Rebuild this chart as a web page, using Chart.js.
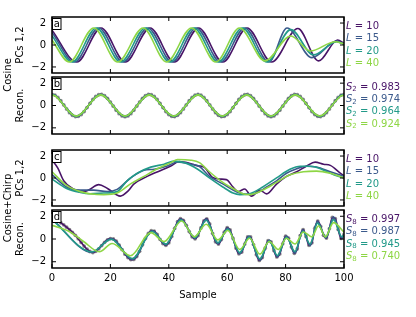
<!DOCTYPE html>
<html>
<head>
<meta charset="utf-8">
<script src="https://cdn.jsdelivr.net/npm/chart.js"></script>
<style>
  body { margin: 0; background: #fff; }
  #wrap { position: relative; width: 416px; height: 317px; overflow: hidden; font-family: "DejaVu Sans", sans-serif; }
  .pane { position: absolute; left: 0; }
  .pane canvas { display: block; }
  .grp { position: absolute; font-size: 10px; white-space: nowrap; color: #000;
         transform: translate(-50%, -50%) rotate(-90deg); }
</style>
</head>
<body>
<div id="wrap">
  <div class="pane"><canvas id="pa"></canvas></div>
  <div class="pane"><canvas id="pb"></canvas></div>
  <div class="pane"><canvas id="pc"></canvas></div>
  <div class="pane"><canvas id="pd"></canvas></div>
  <div class="grp" style="left:7px; top:75px">Cosine</div>
  <div class="grp" style="left:7px; top:208px">Cosine+Chirp</div>
</div>
<script>
// --- data ---
const sampleTicks = [0, 20, 40, 60, 80, 100];
const valueTicks = [-2, 0, 2];
const windowSizes = ['10', '15', '20', '40'];
const cosineScores = ['0.983', '0.974', '0.964', '0.924'];
const chirpScores = ['0.997', '0.987', '0.945', '0.740'];

// a: cosine, PCs 1,2 (turning points)
const aX10 = [0, 8.5, 16.8, 25.1, 33.6, 41.9, 50.2, 58.5, 66.8, 75.2, 84.2, 91.3, 97.8, 100];
const aY10 = [1.35, -1.55, 1.55, -1.55, 1.55, -1.55, 1.55, -1.55, 1.55, -1.55, 1.5, -1.45, 0.45, 0.15];
const aX15 = [0, 7.7, 16.0, 24.3, 32.8, 41.1, 49.4, 57.7, 66.0, 74.3, 80.5, 89.0, 97.5, 100];
const aY15 = [1.15, -1.55, 1.55, -1.55, 1.55, -1.55, 1.55, -1.55, 1.55, -1.55, 1.55, -1.15, 0.35, 0.1];
const aX20 = [0, 6.9, 15.2, 23.5, 32.0, 40.3, 48.6, 56.9, 65.2, 73.6, 81.8, 89.5, 97.5, 100];
const aY20 = [0.85, -1.55, 1.55, -1.55, 1.55, -1.55, 1.55, -1.55, 1.55, -1.55, 1.4, -0.9, 0.3, 0.05];
const aX40 = [0, 5.9, 14.3, 22.5, 31.2, 39.2, 47.8, 56.1, 64.2, 72.9, 81.8, 88.5, 97.0, 100];
const aY40 = [0.45, -1.55, 1.55, -1.55, 1.55, -1.55, 1.55, -1.55, 1.55, -1.45, 0.82, -0.55, 0.3, 0.1];

// b: cosine samples and reconstructions
const cosineSeries = [1.00, 0.93, 0.73, 0.43, 0.06, -0.31, -0.64, -0.88, -0.99, -0.97,
  -0.81, -0.54, -0.19, 0.19, 0.54, 0.81, 0.97, 0.99, 0.88, 0.64,
  0.31, -0.06, -0.43, -0.73, -0.93, -1.00, -0.93, -0.73, -0.43, -0.06,
  0.31, 0.64, 0.88, 0.99, 0.97, 0.81, 0.54, 0.19, -0.19, -0.54,
  -0.81, -0.97, -0.99, -0.88, -0.64, -0.31, 0.06, 0.43, 0.73, 0.93,
  1.00, 0.93, 0.73, 0.43, 0.06, -0.31, -0.64, -0.88, -0.99, -0.97,
  -0.81, -0.54, -0.19, 0.19, 0.54, 0.81, 0.97, 0.99, 0.88, 0.64,
  0.31, -0.06, -0.43, -0.73, -0.93, -1.00, -0.93, -0.73, -0.43, -0.06,
  0.31, 0.64, 0.88, 0.99, 0.97, 0.81, 0.54, 0.19, -0.19, -0.54,
  -0.81, -0.97, -0.99, -0.88, -0.64, -0.31, 0.06, 0.43, 0.73, 0.93,
  1.00];
const bX = [0, 1, 8.33, 16.67, 25, 33.33, 41.67, 50, 58.33, 66.67, 75, 83.33, 91.67, 99, 100];
const bY10 = [0.99, 0.92, -0.99, 0.99, -0.99, 0.99, -0.99, 0.99, -0.99, 0.99, -0.99, 0.99, -0.99, 0.92, 0.99];
const bY15 = [0.98, 0.91, -0.98, 0.98, -0.98, 0.98, -0.98, 0.98, -0.98, 0.98, -0.98, 0.98, -0.98, 0.91, 0.97];
const bY20 = [0.97, 0.90, -0.97, 0.97, -0.97, 0.97, -0.97, 0.97, -0.97, 0.97, -0.97, 0.97, -0.97, 0.90, 0.96];
const bY40 = [0.93, 0.87, -0.95, 0.95, -0.95, 0.95, -0.95, 0.95, -0.95, 0.95, -0.95, 0.95, -0.94, 0.86, 0.92];

// c: cosine+chirp, PCs 1,2
const cX10 = [0, 2, 4, 7, 10, 12.5, 16, 19, 23.4, 26, 28, 32.6, 36, 40.7, 43.6, 47, 50, 52, 55, 57.5, 59.7, 62, 63.8, 66, 68.3, 71.2, 73.5, 76.9, 80.3, 83.8, 87.2, 90.1, 93, 95.3, 98.7, 100];
const cY10 = [1.65, 0.9, -0.25, -0.95, -1.3, -1.1, -0.6, -0.95, -1.65, -1.2, -0.55, 0.15, 0.55, 1.1, 1.5, 1.35, 1.1, 1.0, 0.05, -0.1, -0.15, -0.82, -1.24, -1.0, -1.65, -1.1, -1.45, -0.55, 0.15, 0.57, 1.1, 1.45, 1.25, 1.15, 0.45, 0.2];
const cX15 = [0, 5, 9.7, 14.3, 18.9, 22.3, 26.9, 31.5, 35, 39.5, 43, 47.6, 50.5, 53.9, 58.5, 62, 64.3, 67.7, 70.6, 73.5, 76.9, 80.3, 83.8, 87.2, 90.6, 95.3, 100];
const cY15 = [0.3, -0.82, -1.1, -1.1, -1.24, -1.04, 0, 0.7, 0.8, 1.1, 1.46, 1.26, 1.05, 0.15, -0.54, -1.1, -1.37, -1.5, -1.3, -0.82, -0.26, 0.43, 0.85, 1.07, 1.0, 0.57, 0.15];
const cX20 = [0, 5, 9.7, 13, 17.7, 22.3, 25.7, 29.2, 33.8, 38.4, 41.8, 45.3, 49.9, 53.9, 58.5, 62, 64.3, 67.7, 72.2, 76.9, 81.5, 85, 88.4, 91.9, 96.5, 100];
const cY20 = [-0.1, -0.96, -1.32, -1.43, -1.37, -1.24, -0.26, 0.43, 0.99, 1.26, 1.54, 1.4, 0.8, 0.01, -0.82, -1.37, -1.51, -1.43, -0.82, 0.01, 0.79, 1.07, 1.07, 0.85, 0.29, 0.01];
const cX40 = [0, 5, 9.7, 15.4, 17.7, 22.3, 26.9, 31.5, 36.1, 40.7, 43, 47.6, 50.5, 53.9, 58.5, 62, 65.4, 67.7, 72.2, 76.9, 81.5, 86.1, 90.6, 95.3, 100];
const cY40 = [0.57, -0.68, -1.24, -1.5, -1.51, -1.37, -0.54, 0.15, 0.85, 1.4, 1.68, 1.62, 1.4, 0.57, -0.4, -0.96, -1.43, -1.51, -1.1, -0.4, 0.29, 0.57, 0.63, 0.43, 0.01];

// d: cosine+chirp samples and reconstructions
const chirpSeries = [1.80, 1.72, 1.60, 1.43, 1.25, 1.04, 0.82, 0.58, 0.32, 0.03,
  -0.30, -0.62, -0.90, -1.10, -1.19, -1.08, -0.86, -0.58, -0.29, -0.07,
  0.04, 0.01, -0.20, -0.53, -0.93, -1.33, -1.63, -1.81, -1.80, -1.54,
  -1.08, -0.51, 0.05, 0.49, 0.73, 0.70, 0.40, -0.03, -0.40, -0.55,
  -0.34, 0.23, 0.93, 1.52, 1.78, 1.64, 1.20, 0.65, 0.20, 0.02,
  0.30, 0.97, 1.59, 1.77, 1.32, 0.49, -0.24, -0.44, -0.05, 0.60,
  0.99, 0.79, 0.06, -0.80, -1.30, -1.15, -0.45, 0.18, 0.18, -0.49,
  -1.38, -1.88, -1.63, -0.81, -0.15, -0.25, -1.01, -1.58, -1.31, -0.42,
  0.24, 0.07, -0.71, -1.26, -0.86, 0.30, 0.83, 0.23, -0.55, -0.34,
  0.95, 1.58, 1.10, 0.32, 0.08, 0.91, 1.89, 1.80, 0.84, 0.05,
  0.40];
const dX15 = [0, 13.7, 20.3, 27.5, 34.4, 39, 44.1, 49, 52.8, 56.8, 60.2, 64.3, 67.5, 71.2, 74.4, 77.2, 80.3, 83.2, 85.9, 88.4, 90.9, 93.8, 96.4, 99.3, 100];
const dY15 = [1.78, -1.18, 0.03, -1.8, 0.73, -0.52, 1.76, 0.05, 1.75, -0.42, 0.97, -1.3, 0.25, -1.86, -0.1, -1.56, 0.25, -1.24, 0.8, -0.6, 1.55, 0.08, 1.95, 0.05, 0.35];
const dY20 = [1.7, -1.12, -0.02, -1.72, 0.66, -0.45, 1.68, 0.12, 1.65, -0.33, 0.88, -1.2, 0.17, -1.74, -0.18, -1.45, 0.16, -1.1, 0.68, -0.45, 1.4, 0.18, 1.7, 0.2, 0.4];
const dX40 = [0, 6.2, 10.8, 16.2, 20.6, 26.9, 33.8, 38.4, 44.4, 48.7, 52.8, 56.8, 60.2, 64.3, 67.7, 71.2, 74.4, 77.5, 80.3, 83.2, 86.1, 89, 91.3, 93.6, 96.4, 100];
const dY40 = [1.2, 0.62, -0.22, -1.12, -0.4, -1.47, 0.56, -0.22, 1.58, 0.19, 1.3, -0.08, 0.75, -0.92, 0.06, -1.33, -0.22, -0.92, 0.06, -0.44, 0.61, 0.19, 1.17, 0.19, 1.44, 0.6];

// --- style ---
const FONT = 'DejaVu Sans';
const lineColors = ['#481467', '#3b5a8c', '#229a89', '#8ed645'];
const dotColor = '#8c8c8c';
Chart.defaults.font.family = FONT;
Chart.defaults.font.size = 10;
Chart.defaults.color = '#000';

function xy(xs, ys) { return xs.map((x, i) => ({x: x, y: ys[i]})); }
function samples(ys) { return ys.map((y, i) => ({x: i, y: y})); }

const panels = [
  {id: 'pa', top: 15, bottom: 75, letter: 'a', title: 'PCs 1,2', sym: 'L', sub: '', vals: windowSizes,
   lines: [xy(aX10, aY10), xy(aX15, aY15), xy(aX20, aY20), xy(aX40, aY40)]},
  {id: 'pb', top: 75, bottom: 136, letter: 'b', title: 'Recon.', sym: 'S', sub: '2', vals: cosineScores,
   raw: cosineSeries, lines: [xy(bX, bY10), xy(bX, bY15), xy(bX, bY20), xy(bX, bY40)]},
  {id: 'pc', top: 148, bottom: 208, letter: 'c', title: 'PCs 1,2', sym: 'L', sub: '', vals: windowSizes,
   lines: [xy(cX10, cY10), xy(cX15, cY15), xy(cX20, cY20), xy(cX40, cY40)]},
  {id: 'pd', top: 208, bottom: 268, letter: 'd', title: 'Recon.', sym: 'S', sub: '8', vals: chirpScores,
   raw: chirpSeries, lines: [samples(chirpSeries), xy(dX15, dY15), xy(dX15, dY20), xy(dX40, dY40)], last: true}
];

// frame, inward ticks, panel letter and the coloured side legend
function decor(p, offset) {
  return {
    id: 'decor',
    afterDatasetsDraw(chart) {
      const ctx = chart.ctx, a = chart.chartArea;
      const sx = chart.scales.x, sy = chart.scales.y;
      ctx.save();
      ctx.strokeStyle = '#000';
      ctx.lineWidth = 1;
      ctx.beginPath();
      sampleTicks.forEach(v => {
        const px = sx.getPixelForValue(v);
        ctx.moveTo(px, a.top); ctx.lineTo(px, a.top + 4);
        ctx.moveTo(px, a.bottom); ctx.lineTo(px, a.bottom - 4);
      });
      valueTicks.forEach(v => {
        const py = sy.getPixelForValue(v);
        ctx.moveTo(a.left, py); ctx.lineTo(a.left + 4, py);
        ctx.moveTo(a.right, py); ctx.lineTo(a.right - 4, py);
      });
      ctx.stroke();
      ctx.lineWidth = 1.5;
      ctx.strokeRect(a.left, a.top, a.right - a.left, a.bottom - a.top);

      // letter box
      ctx.fillStyle = '#fff';
      ctx.fillRect(a.left, a.top + 1.5, 9, 11);
      ctx.lineWidth = 1;
      ctx.strokeRect(a.left + 0.5, a.top + 1.5, 8.5, 11);
      ctx.fillStyle = '#000';
      ctx.font = '10px ' + FONT;
      ctx.textAlign = 'center';
      ctx.textBaseline = 'middle';
      ctx.fillText(p.letter, a.left + 4.8, a.top + 7);

      // legend
      ctx.textAlign = 'left';
      const mid = (p.top + p.bottom) / 2 - offset;
      p.vals.forEach((val, i) => {
        const y = mid + (i - 1.5) * 12.3;
        let x = 346;
        ctx.fillStyle = lineColors[i];
        ctx.font = 'italic 10px ' + FONT;
        ctx.fillText(p.sym, x, y);
        x += ctx.measureText(p.sym).width;
        if (p.sub) {
          ctx.font = '7px ' + FONT;
          ctx.fillText(p.sub, x, y + 2.5);
          x += ctx.measureText(p.sub).width;
        }
        ctx.font = '10px ' + FONT;
        ctx.fillText(' = ' + val, x, y);
      });
      ctx.restore();
    }
  };
}

function makeChart(p) {
  const canvas = document.getElementById(p.id);
  const offset = p.top - 10;
  const height = p.last ? 317 - offset : (p.bottom - p.top) + 20;
  canvas.parentNode.style.top = offset + 'px';
  canvas.width = 416;
  canvas.height = height;

  const datasets = p.lines.map((pts, k) => ({
    data: pts,
    borderColor: lineColors[k],
    borderWidth: 1.6,
    pointRadius: 0,
    fill: false,
    cubicInterpolationMode: 'monotone',
    order: 4 - k
  }));
  if (p.raw) {
    datasets.push({
      data: samples(p.raw),
      showLine: false,
      pointRadius: 1.9,
      pointBorderWidth: 0,
      pointBackgroundColor: dotColor,
      order: 10
    });
  }

  return new Chart(canvas, {
    type: 'line',
    data: {datasets: datasets},
    options: {
      responsive: false,
      animation: false,
      events: [],
      layout: {padding: {left: 0, right: 72, top: 10, bottom: p.last ? 0 : 10}},
      plugins: {legend: {display: false}, tooltip: {enabled: false}},
      scales: {
        x: {
          type: 'linear', min: 0, max: 100,
          grid: {display: false, drawTicks: false},
          border: {display: false},
          ticks: {display: !!p.last, stepSize: 20, padding: 4, maxRotation: 0},
          title: {display: !!p.last, text: 'Sample', padding: {top: 0, bottom: 16}},
          afterFit: s => { s.height = p.last ? 49 : 0; }
        },
        y: {
          min: -2.55, max: 2.55,
          grid: {display: false, drawTicks: false},
          border: {display: false},
          ticks: {
            stepSize: 2, includeBounds: false, padding: 6,
            callback: v => v < 0 ? '\u2212' + Math.abs(v) : String(v)
          },
          title: {display: true, text: p.title, padding: {top: 14, bottom: 0}},
          afterFit: s => { s.width = 52; }
        }
      }
    },
    plugins: [decor(p, offset)]
  });
}

panels.forEach(makeChart);
</script>
</body>
</html>
